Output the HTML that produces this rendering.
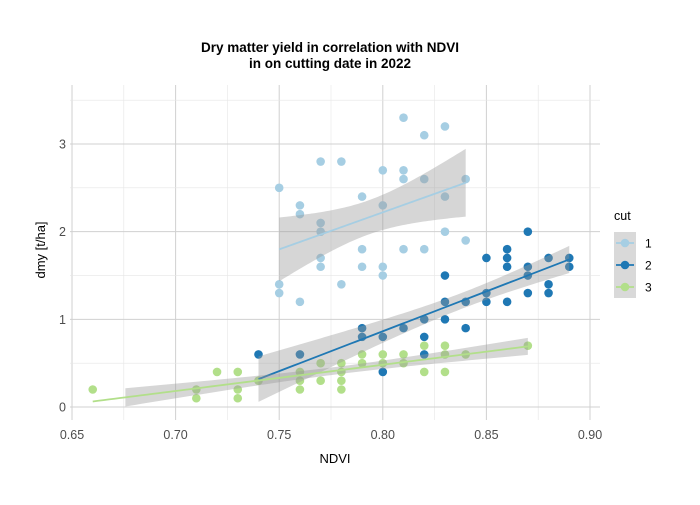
<!DOCTYPE html>
<html><head><meta charset="utf-8"><style>
body{margin:0;background:#fff;font-family:"Liberation Sans",Arial,sans-serif}
svg text{font-family:"Liberation Sans",Arial,sans-serif}
</style></head><body>
<svg id="c" width="700" height="500" xmlns="http://www.w3.org/2000/svg"></svg>
<script>
const xTicks=[0.65,0.70,0.75,0.80,0.85,0.90];
const xTickLabels=["0.65","0.70","0.75","0.80","0.85","0.90"];
const yTicks=[0,1,2,3];
const yTickLabels=["0","1","2","3"];
const cutNames=["1","2","3"];
const cut1X=[0.75,0.75,0.75,0.76,0.76,0.76,0.77,0.77,0.77,0.77,0.77,0.78,0.78,0.79,0.79,0.79,0.80,0.80,0.80,0.80,0.81,0.81,0.81,0.81,0.82,0.82,0.82,0.83,0.83,0.83,0.84,0.84];
const cut1Y=[2.5,1.4,1.3,2.3,2.2,1.2,2.8,2.1,2.0,1.7,1.6,2.8,1.4,2.4,1.8,1.6,2.7,2.3,1.6,1.5,3.3,2.7,2.6,1.8,3.1,2.6,1.8,3.2,2.4,2.0,2.6,1.9];
const cut2X=[0.74,0.76,0.79,0.79,0.80,0.80,0.81,0.82,0.82,0.82,0.83,0.83,0.83,0.84,0.84,0.85,0.85,0.85,0.86,0.86,0.86,0.86,0.87,0.87,0.87,0.87,0.88,0.88,0.88,0.89,0.89];
const cut2Y=[0.6,0.6,0.9,0.8,0.8,0.4,0.9,1.0,0.8,0.6,1.5,1.2,1.0,1.2,0.9,1.7,1.3,1.2,1.8,1.7,1.6,1.2,2.0,1.6,1.5,1.3,1.7,1.4,1.3,1.7,1.6];
const cut3X=[0.66,0.71,0.71,0.72,0.73,0.73,0.73,0.74,0.76,0.76,0.76,0.77,0.77,0.78,0.78,0.78,0.78,0.79,0.79,0.80,0.80,0.81,0.81,0.82,0.82,0.83,0.83,0.83,0.84,0.87];
const cut3Y=[0.2,0.2,0.1,0.4,0.4,0.2,0.1,0.3,0.4,0.3,0.2,0.5,0.3,0.5,0.4,0.3,0.2,0.6,0.5,0.6,0.5,0.6,0.5,0.7,0.4,0.7,0.6,0.4,0.6,0.7];

const NS="http://www.w3.org/2000/svg";
const svg=document.getElementById('c');
const L=70,R=600,T=85,B=420;
const X0=0.64903,X1=0.90483,Y0=-0.148,Y1=3.673;
const sx=v=>L+(v-X0)/(X1-X0)*(R-L);
const sy=v=>B-(v-Y0)/(Y1-Y0)*(B-T);
function mk(tag,attrs,parent){const e=document.createElementNS(NS,tag);for(const k in attrs)e.setAttribute(k,attrs[k]);(parent||svg).appendChild(e);return e;}
const grid=mk('g',{});


for(let i=0;i<xTicks.length;i++){
  const x=sx(xTicks[i]);
  const gl=mk('line',{x1:x,x2:x,y1:T,y2:B,stroke:'#d0d0d0','stroke-width':1},grid);
  
  
  if(i<xTicks.length-1){const xm=sx((xTicks[i]+xTicks[i+1])/2);
    const mg=mk('line',{x1:xm,x2:xm,y1:T,y2:B,stroke:'#e6e6e6','stroke-width':0.6},grid);
    
    }
  const t=mk('text',{x:x,y:439,'text-anchor':'middle','font-size':12.5,fill:'#4d4d4d'});
  t.textContent=xTickLabels[i];
  
  
}
const ym=[-0.5,0.5,1.5,2.5,3.5];
for(const v of ym){if(v<Y0||v>Y1)continue;const y=sy(v);
  const mg=mk('line',{x1:L,x2:R,y1:y,y2:y,stroke:'#e6e6e6','stroke-width':0.6},grid);
  
  }
for(let i=0;i<yTicks.length;i++){
  const y=sy(yTicks[i]);
  const gl=mk('line',{x1:L,x2:R,y1:y,y2:y,stroke:'#d0d0d0','stroke-width':1},grid);
  
  
  const t=mk('text',{x:66,y:y+4.5,'text-anchor':'end','font-size':12.5,fill:'#4d4d4d'});
  t.textContent=yTickLabels[i];
  
  
}
const series=[[cut1X,cut1Y,'#a6cee3'],[cut2X,cut2Y,'#1f78b4'],[cut3X,cut3Y,'#b2df8a']];
const tq=[2.042,2.045,2.048];
series.forEach((s,si)=>{
  const g=mk('g',{});
  
  
  s[0].forEach((xv,i)=>{const c=mk('circle',{cx:sx(xv),cy:sy(s[1][i]),r:4.3,fill:s[2]},g);
    
    });
});
series.forEach((s,si)=>{
  const xs=s[0],ys=s[1],n=xs.length;
  const mx=xs.reduce((a,b)=>a+b)/n,my=ys.reduce((a,b)=>a+b)/n;
  let sxx=0,sxy=0;for(let i=0;i<n;i++){sxx+=(xs[i]-mx)**2;sxy+=(xs[i]-mx)*(ys[i]-my);}
  const b=sxy/sxx,a=my-b*mx;let sse=0;for(let i=0;i<n;i++)sse+=(ys[i]-a-b*xs[i])**2;
  const sd=Math.sqrt(sse/(n-2));
  const xmin=Math.min(...xs),xmax=Math.max(...xs);
  const up=[],lo=[],ln=[];
  for(let k=0;k<=80;k++){const xv=xmin+(xmax-xmin)*k/80;const yv=a+b*xv;
    const se=sd*Math.sqrt(1/n+(xv-mx)**2/sxx);
    ln.push(sx(xv)+','+sy(yv));
    if(yv-tq[si]*se>=0){up.push(sx(xv)+','+sy(yv+tq[si]*se));lo.unshift(sx(xv)+','+sy(yv-tq[si]*se));}}
  const band=mk('polygon',{points:up.concat(lo).join(' '),fill:'#999999','fill-opacity':0.4});
  
  
  const line=mk('polyline',{points:ln.join(' '),fill:'none',stroke:s[2],'stroke-width':1.8});
  
  
});
const lg=mk('g',{});


const lt=mk('text',{x:614,y:220,'font-size':12.5,fill:'#000'},lg);lt.textContent='cut';


series.forEach((s,si)=>{const y=243+si*22;
  const e=mk('g',{},lg);
  
  
  mk('rect',{x:614,y:y-11,width:22,height:22,fill:'#d9d9d9'},e);
  mk('line',{x1:616,x2:634,y1:y,y2:y,stroke:s[2],'stroke-width':1.8},e);
  mk('circle',{cx:625,cy:y,r:4.3,fill:s[2]},e);
  const t=mk('text',{x:645,y:y+4.5,'font-size':12,fill:'#000'},e);t.textContent=cutNames[si];});
function txt(x,y,s,attrs,name){const t=mk('text',Object.assign({x:x,y:y},attrs));t.textContent=s;
  
  return t;}
txt(330,52,'Dry matter yield in correlation with NDVI',{'text-anchor':'middle','font-size':13.5,'font-weight':'bold'},'chart-title');
txt(330,68,'in on cutting date in 2022',{'text-anchor':'middle','font-size':13.5,'font-weight':'bold'},'chart-subtitle');
txt(335,463,'NDVI',{'text-anchor':'middle','font-size':13},'x-axis-title');
txt(0,0,'dmy [t/ha]',{'text-anchor':'middle','font-size':13,transform:'translate(45,250) rotate(-90)'},'y-axis-title');
</script>
</body></html>
